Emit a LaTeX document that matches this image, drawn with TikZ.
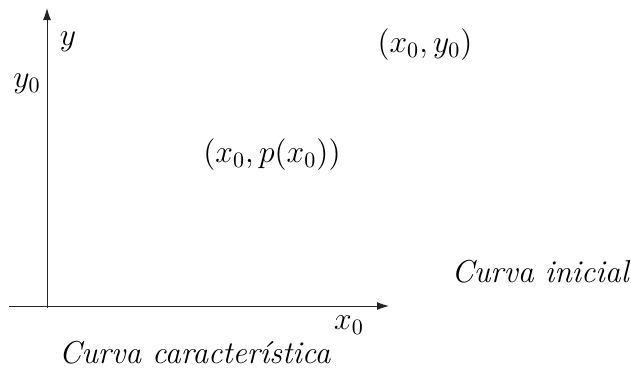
\documentclass[tikz,border=0pt]{standalone}
\usetikzlibrary{arrows.meta}
\begin{document}
\begin{tikzpicture}[x=0.5pt,y=-0.5pt,
  axis/.style={line width=0.5pt,draw=black!85,-{Latex[length=6pt,width=4pt]}},
  lbl/.style={font=\Large,scale=1.1,inner sep=0pt}]
\useasboundingbox (0,0) rectangle (631,371);
\coordinate (ys) at (47,308);
\coordinate (ye) at (47,8);
\coordinate (xs) at (9,306);
\coordinate (xe) at (389,306);
\draw[axis] (ys) -- (ye);
\draw[axis] (xs) -- (xe);
\node[lbl] (ly) at (68,42) {$y$};
\node[lbl] (ly0) at (27,84) {$y_0$};
\node[lbl] (p1) at (425,45) {$(x_0,y_0)$};
\node[lbl] (p2) at (272,155) {$(x_0,p(x_0))$};
\node[lbl] (ci) at (541,272) {\textit{Curva inicial}};
\node[lbl] (lx0) at (349,325) {$x_0$};
\node[lbl] (cc) at (195,353) {\textit{Curva característica}};
\end{tikzpicture}
\end{document}
